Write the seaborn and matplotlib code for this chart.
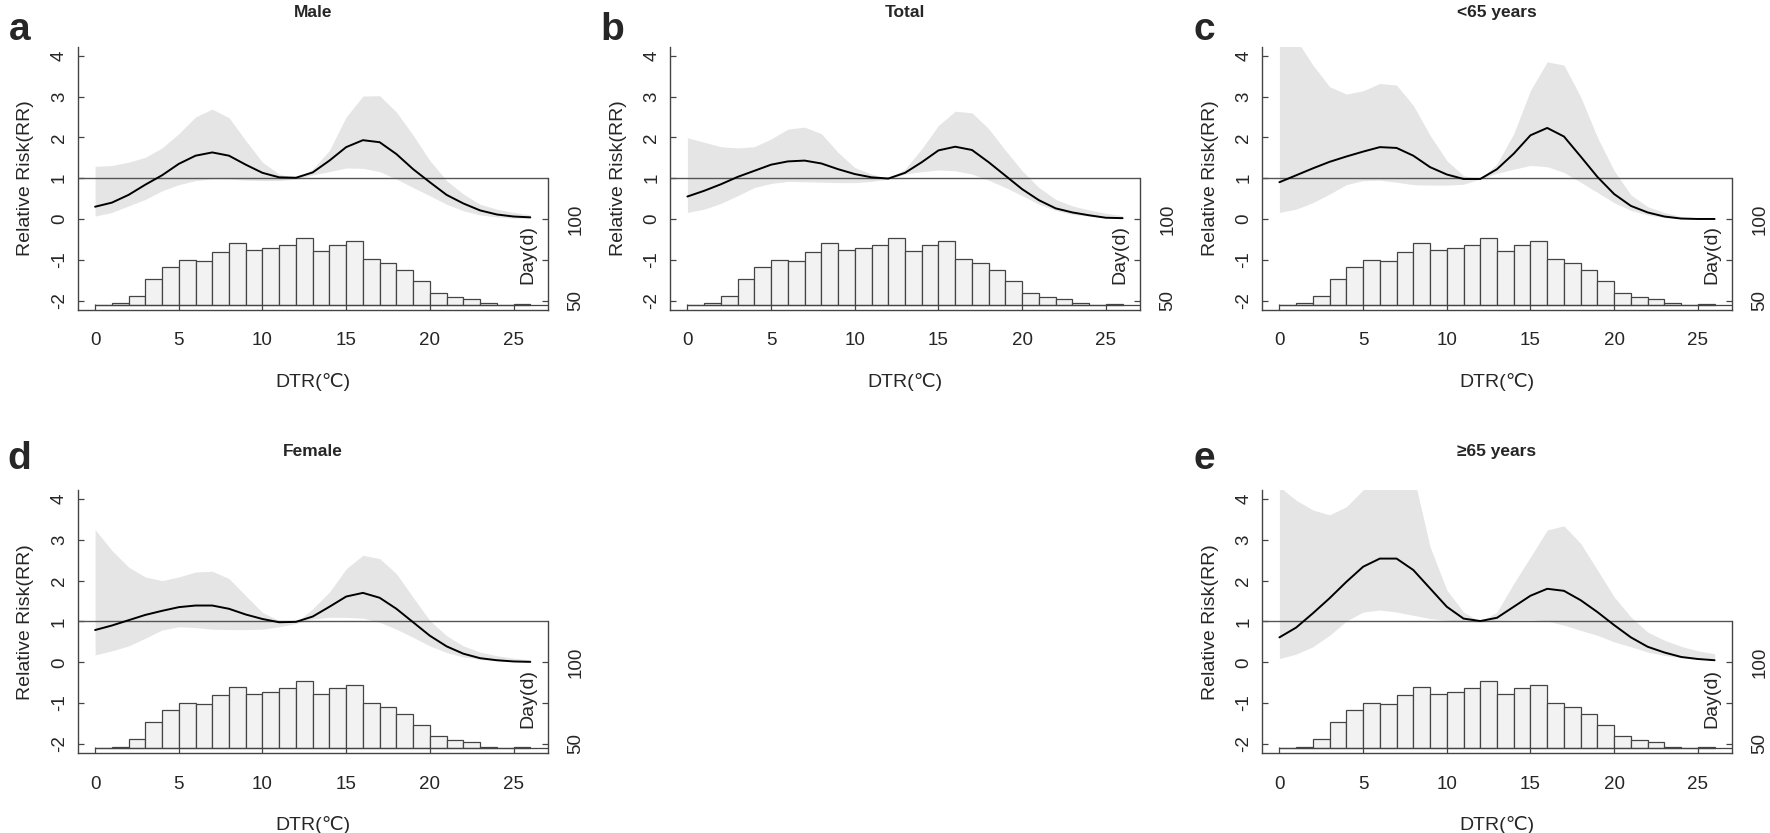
import numpy as np
import seaborn as sns
import matplotlib.pyplot as plt

# DTR values (degrees C) where the RR curve is evaluated
dtr = list(range(0, 27))

# Male
rr_male = [0.30, 0.40, 0.59, 0.84, 1.07, 1.35, 1.55, 1.63, 1.55, 1.33, 1.13, 1.02, 1.01, 1.14, 1.43, 1.76, 1.93,
           1.88, 1.59, 1.22, 0.90, 0.59, 0.38, 0.21, 0.11, 0.06, 0.04]
hi_male = [1.29, 1.31, 1.39, 1.51, 1.74, 2.09, 2.50, 2.69, 2.48, 1.92, 1.39, 1.10, 1.00, 1.22, 1.68, 2.50, 3.01,
           3.02, 2.62, 2.05, 1.43, 0.94, 0.61, 0.36, 0.24, 0.16, 0.10]
lo_male = [0.07, 0.16, 0.32, 0.48, 0.69, 0.84, 0.94, 0.98, 0.98, 0.95, 0.94, 0.94, 0.98, 1.08, 1.16, 1.25, 1.24,
           1.16, 0.98, 0.77, 0.57, 0.36, 0.20, 0.10, 0.05, 0.02, 0.01]

# Total
rr_total = [0.55, 0.69, 0.85, 1.03, 1.18, 1.33, 1.41, 1.43, 1.36, 1.22, 1.10, 1.02, 0.99, 1.13, 1.39, 1.68, 1.77,
            1.69, 1.39, 1.06, 0.73, 0.46, 0.26, 0.16, 0.09, 0.03, 0.02]
hi_total = [1.99, 1.88, 1.77, 1.74, 1.77, 1.96, 2.20, 2.25, 2.09, 1.63, 1.26, 1.10, 0.99, 1.22, 1.72, 2.29, 2.64,
            2.60, 2.21, 1.68, 1.18, 0.77, 0.48, 0.32, 0.22, 0.14, 0.08]
lo_total = [0.16, 0.24, 0.38, 0.57, 0.77, 0.87, 0.92, 0.91, 0.90, 0.89, 0.89, 0.92, 0.98, 1.10, 1.16, 1.20, 1.18,
            1.10, 0.95, 0.77, 0.57, 0.36, 0.21, 0.11, 0.07, 0.03, 0.02]

# <65 years
rr_young = [0.90, 1.07, 1.24, 1.40, 1.53, 1.65, 1.76, 1.74, 1.55, 1.27, 1.09, 0.98, 0.98, 1.22, 1.60, 2.05, 2.23,
            2.02, 1.53, 1.03, 0.61, 0.32, 0.16, 0.06, 0.01, 0.00, 0.00]
hi_young = [5.20, 4.40, 3.77, 3.24, 3.06, 3.14, 3.32, 3.28, 2.78, 2.05, 1.43, 1.06, 0.98, 1.35, 2.09, 3.15, 3.85,
            3.77, 2.99, 2.00, 1.18, 0.59, 0.30, 0.16, 0.06, 0.02, 0.00]
lo_young = [0.16, 0.24, 0.40, 0.61, 0.84, 0.94, 0.95, 0.90, 0.84, 0.83, 0.83, 0.85, 0.98, 1.12, 1.22, 1.31, 1.28,
            1.14, 0.90, 0.65, 0.40, 0.21, 0.10, 0.03, 0.01, 0.00, 0.00]

# Female
rr_female = [0.79, 0.90, 1.03, 1.16, 1.26, 1.35, 1.39, 1.39, 1.31, 1.17, 1.06, 0.98, 0.99, 1.12, 1.36, 1.61, 1.70,
             1.58, 1.31, 0.98, 0.65, 0.39, 0.21, 0.10, 0.05, 0.02, 0.01]
hi_female = [3.25, 2.74, 2.33, 2.09, 2.00, 2.09, 2.21, 2.23, 2.05, 1.63, 1.22, 1.02, 0.97, 1.31, 1.72, 2.29, 2.62,
             2.54, 2.17, 1.59, 1.02, 0.65, 0.40, 0.25, 0.16, 0.10, 0.06]
lo_female = [0.18, 0.28, 0.40, 0.59, 0.79, 0.87, 0.85, 0.81, 0.80, 0.80, 0.81, 0.87, 0.95, 1.06, 1.10, 1.10, 1.08,
             0.98, 0.81, 0.61, 0.40, 0.24, 0.13, 0.07, 0.03, 0.02, 0.01]

# >=65 years
rr_old = [0.61, 0.85, 1.20, 1.57, 1.97, 2.34, 2.54, 2.54, 2.26, 1.81, 1.36, 1.07, 1.01, 1.09, 1.36, 1.63, 1.80,
          1.75, 1.52, 1.23, 0.91, 0.61, 0.38, 0.24, 0.13, 0.08, 0.05]
hi_old = [4.30, 3.97, 3.73, 3.61, 3.81, 4.22, 5.00, 5.00, 4.60, 2.83, 1.77, 1.23, 0.99, 1.23, 1.93, 2.58, 3.24,
          3.34, 2.91, 2.26, 1.60, 1.11, 0.74, 0.54, 0.39, 0.28, 0.21]
lo_old = [0.09, 0.20, 0.38, 0.66, 1.01, 1.23, 1.28, 1.23, 1.15, 1.07, 1.03, 1.01, 0.99, 1.03, 1.05, 1.05, 1.01,
          0.91, 0.78, 0.66, 0.50, 0.38, 0.25, 0.17, 0.11, 0.08, 0.07]

# histogram of days per 1-degree DTR bin (same in every panel), read on the right axis
bin_left = list(range(0, 26))
days = [47.5, 48.3, 53.0, 63.5, 70.8, 75.0, 74.3, 80.0, 85.0, 80.8, 82.0, 84.0, 88.5, 80.5, 84.0, 86.3, 75.3,
        72.8, 68.5, 61.8, 54.8, 52.5, 51.0, 48.3, 47.5, 48.0]
day_ticks = [50, 75, 100]
day_labels = ['50', '', '100']

panels = [
    ('a', 'Male', rr_male, lo_male, hi_male, 0, 0),
    ('b', 'Total', rr_total, lo_total, hi_total, 1, 0),
    ('c', '<65 years', rr_young, lo_young, hi_young, 2, 0),
    ('d', 'Female', rr_female, lo_female, hi_female, 0, 1),
    ('e', '≥65 years', rr_old, lo_old, hi_old, 2, 1),
]

sns.set_style('ticks')
plt.rcParams['font.family'] = ['Liberation Sans', 'DejaVu Sans']
plt.rcParams['axes.unicode_minus'] = False

W, H = 1770, 833
fig = plt.figure(figsize=(W / 100, H / 100), dpi=100)

col_left = [77.7, 670, 1262]
row_top = [46.7, 490]
title_y = [1.13, 1.145]
letter_gap = [17, 31]
ax_w, ax_h = 470, 263.3
ylo, yhi = -2.23, 4.22
xlo, xhi = -1.04, 27.04
base_day = 47.5
edge = '#444444'

for letter, title, rr, lo, hi, col, row in panels:
    left, top = col_left[col], row_top[row]
    ax = fig.add_axes([left / W, 1 - (top + ax_h) / H, ax_w / W, ax_h / H])
    ax.fill_between(dtr, lo, hi, color='#e5e5e5', linewidth=0, zorder=1)
    sns.lineplot(x=dtr, y=rr, ax=ax, color='black', linewidth=1.4, zorder=3)
    ax.axhline(1, color='#555555', linewidth=1.0, zorder=2)
    ax.set_xlim(xlo, xhi)
    ax.set_ylim(ylo, yhi)
    ax.set_xticks([0, 5, 10, 15, 20, 25])
    ax.set_yticks([-2, -1, 0, 1, 2, 3, 4])
    ax.tick_params(axis='x', direction='in', length=4.3, width=0.9, color=edge, labelsize=13.5, pad=16)
    ax.tick_params(axis='y', direction='in', length=4, width=0.9, color=edge, labelsize=13.5, pad=7)
    for lab in ax.get_yticklabels():
        lab.set_rotation(90)
        lab.set_va('center')
        lab.set_ha('right')
    for s in ['top', 'right']:
        ax.spines[s].set_visible(False)
    for s in ['left', 'bottom']:
        ax.spines[s].set_color(edge)
        ax.spines[s].set_linewidth(1.0)
    ax.set_xlabel('DTR(℃)', fontsize=14, labelpad=17)
    ax.set_ylabel('Relative Risk(RR)', fontsize=14, labelpad=12)
    ax.text(0.5, title_y[row], title, transform=ax.transAxes, ha='center', va='center',
            fontsize=12.5, fontweight='bold')
    fig.text((left - 58) / W, 1 - (top - letter_gap[row]) / H, letter,
             fontsize=28, fontweight='bold', ha='center', va='center')

    # day histogram on a twin axis
    ax2 = ax.twinx()
    ax2.set_ylim(100 + 25 * ylo, 100 + 25 * yhi)
    ax2.bar(bin_left, [d - base_day for d in days], bottom=base_day, width=1, align='edge',
            color='#f2f2f2', edgecolor=edge, linewidth=0.9, zorder=2)
    ax2.hlines(base_day, 0, xhi, color=edge, linewidth=0.9, zorder=3)
    ax2.set_xlim(xlo, xhi)
    ax2.set_yticks(day_ticks)
    ax2.set_yticklabels(day_labels)
    ax2.tick_params(axis='y', direction='in', length=4, width=0.9, color=edge, labelsize=13.5, pad=14)
    for lab in ax2.get_yticklabels():
        lab.set_rotation(90)
        lab.set_va('center')
        lab.set_ha('left')
    for s in ['top', 'left', 'bottom']:
        ax2.spines[s].set_visible(False)
    ax2.spines['right'].set_bounds(100 + 25 * ylo, 125)
    ax2.spines['right'].set_color(edge)
    ax2.spines['right'].set_linewidth(1.0)
    ax2.text(25.85, 100 + 25 * -0.88, 'Day(d)', rotation=90, ha='center', va='center', fontsize=14)

fig.savefig('out.png', dpi=100)
